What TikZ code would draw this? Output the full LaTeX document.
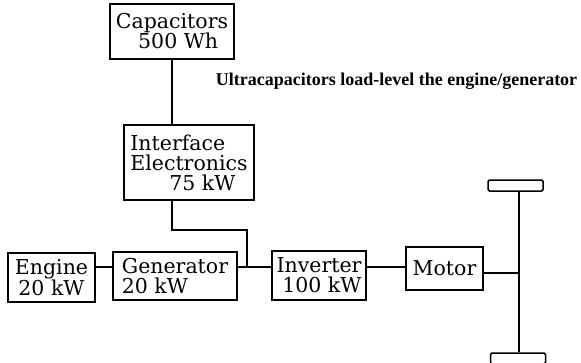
\documentclass[tikz,border=0pt]{standalone}
\usepackage{fontspec}
\setmainfont{DejaVu Serif}
\newfontfamily\notefont{Liberation Serif}
\usetikzlibrary{calc}

\begin{document}
\begin{tikzpicture}[
    x=1pt, y=-1pt,
    unit node/.style={draw=black, line width=1.5pt, inner sep=2pt, font=\fontsize{20.5}{20}\selectfont},
    wheel node/.style={draw=black, line width=1.5pt, rounded corners=1.5pt, minimum width=55pt, minimum height=11pt, inner sep=0pt},
    main edge/.style={line width=1.5pt, draw=black}
]
\useasboundingbox (0,0) rectangle (581,362);

% blocks
\node[unit node, minimum width=124pt, minimum height=55pt, align=center] (cap) at (172,31.5) {Capacitors\\\hspace*{0.6em}500 Wh};
\node[unit node, minimum width=130pt, minimum height=75pt, align=left] (iface) at (189,162.5) {Interface\\Electronics\\\hspace*{1.9em}75 kW};
\node[unit node, minimum width=87pt, minimum height=49pt, align=center] (engine) at (51.5,277.5) {Engine\\20 kW};
\node[unit node, minimum width=124pt, minimum height=48pt, align=left] (gen) at (175,276) {Generator\\20 kW};
\node[unit node, minimum width=94pt, minimum height=49pt, align=right] (inv) at (319,275.5) {Inverter\\100 kW};
\node[unit node, minimum width=77pt, minimum height=43pt] (motor) at (444.5,268.5) {Motor};

% wheels
\node[wheel node] (wheelT) at (515.5,185.5) {};
\node[wheel node] (wheelB) at (518,358.5) {};

% bus points
\coordinate (bus) at (247,267);
\coordinate (drop) at (172,230);
\coordinate (hub) at (519,273);

% connections
\draw[main edge] (cap.south) -- (cap.south |- iface.north);
\draw[main edge] (iface.south -| drop) -- (drop) -| (bus);
\draw[main edge] (engine.east |- bus) -- (gen.west |- bus);
\draw[main edge] (gen.east |- bus) -- (inv.west |- bus);
\draw[main edge] (inv.east |- bus) -- (motor.west |- bus);
\draw[main edge] (motor.east |- hub) -- (hub);
\draw[main edge] (wheelT.south -| hub) -- (wheelB.north -| hub);

\node[font=\notefont\bfseries\fontsize{18}{18}\selectfont] (note) at (396.5,81) {Ultracapacitors load-level the engine/generator};

\end{tikzpicture}
\end{document}
